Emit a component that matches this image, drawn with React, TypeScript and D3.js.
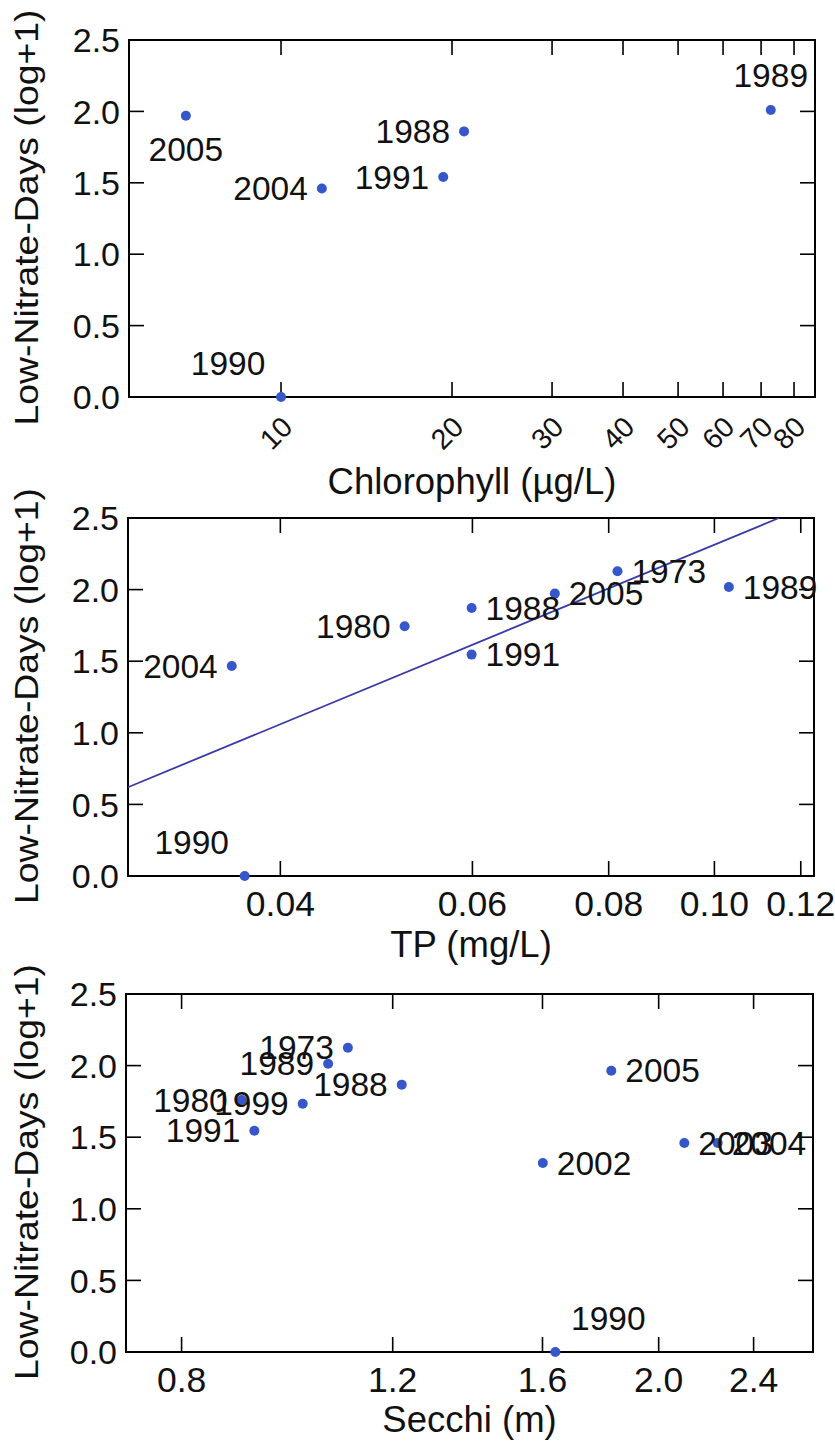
import React from "react";
import * as d3 from "d3";

// ---------- data ----------
const yTicks = [0, 0.5, 1, 1.5, 2, 2.5];
const yTickLabels = ["0.0", "0.5", "1.0", "1.5", "2.0", "2.5"];

// Panel 1: Chlorophyll
const chlTicks = [10, 20, 30, 40, 50, 60, 70, 80];
const chlTickLabels = ["10", "20", "30", "40", "50", "60", "70", "80"];
const chlYears = ["2005", "2004", "1988", "1991", "1989", "1990"];
const chlX = [6.8, 11.8, 21.0, 19.3, 72.8, 10.0];
const chlY = [1.97, 1.46, 1.86, 1.54, 2.01, 0.0];
const chlLabelPos = ["below", "left", "left", "left", "above", "aboveLeft"];

// Panel 2: TP
const tpTicks = [0.04, 0.06, 0.08, 0.1, 0.12];
const tpTickLabels = ["0.04", "0.06", "0.08", "0.10", "0.12"];
const tpYears = ["2004", "1990", "1980", "1988", "1991", "2005", "1973", "1989"];
const tpX = [0.0361, 0.0371, 0.052, 0.0599, 0.0599, 0.0714, 0.0815, 0.1031];
const tpY = [1.466, 0.0, 1.744, 1.872, 1.546, 1.972, 2.128, 2.018];
const tpLabelPos = ["left", "aboveLeft", "left", "right", "right", "right", "right", "right"];
const tpFitX = [0.029, 0.1146];
const tpFitY = [0.62, 2.5];

// Panel 3: Secchi
const secTicks = [0.8, 1.2, 1.6, 2.0, 2.4];
const secTickLabels = ["0.8", "1.2", "1.6", "2.0", "2.4"];
const secYears = ["1973", "1989", "1988", "1980", "1999", "1991", "2005", "2002", "2003", "2004", "1990"];
const secX = [1.101, 1.06, 1.221, 0.898, 1.0095, 0.92, 1.826, 1.601, 2.101, 2.24, 1.64];
const secY = [2.125, 2.013, 1.867, 1.76, 1.734, 1.545, 1.964, 1.32, 1.46, 1.46, 0.0];
const secLabelPos = ["left", "left", "left", "left", "left", "left", "right", "right", "right", "right", "aboveRight"];

const FONT = "'Liberation Sans', Arial, Helvetica, sans-serif";
const POINT = "#3557c9";
const LINE = "#3a3aa6";

type PanelProps = {
  left: number;
  right: number;
  top: number;
  bottom: number;
  xDomain: [number, number];
  xTicks: number[];
  xTickLabels: string[];
  rotateTicks?: boolean;
  title: string;
  titleDy: number;
  years: string[];
  xs: number[];
  ys: number[];
  pos: string[];
  fitX?: number[];
  fitY?: number[];
};

function Panel(p: PanelProps) {
  const x = d3.scaleLog().domain(p.xDomain).range([p.left, p.right]);
  const y = d3.scaleLinear().domain([0, 2.5]).range([p.bottom, p.top]);
  const tl = 15;
  const cy = (p.top + p.bottom) / 2;
  const cx = (p.left + p.right) / 2;

  let fitPath: string | null = null;
  if (p.fitX && p.fitY) {
    const pts = p.fitX.map((v, i) => [v, p.fitY![i]] as [number, number]);
    fitPath = d3
      .line<[number, number]>()
      .x((d) => x(d[0]))
      .y((d) => y(d[1]))(pts);
  }

  const labelProps = (i: number) => {
    const px = x(p.xs[i]);
    const py = y(p.ys[i]);
    switch (p.pos[i]) {
      case "left":
        return { x: px - 14, y: py, dy: "0.35em", anchor: "end" };
      case "right":
        return { x: px + 14, y: py, dy: "0.35em", anchor: "start" };
      case "above":
        return { x: px, y: py - 23, dy: "0", anchor: "middle" };
      case "below":
        return { x: px, y: py + 45, dy: "0", anchor: "middle" };
      case "aboveLeft":
        return { x: px - 53, y: py - 22, dy: "0", anchor: "middle" };
      case "aboveRight":
        return { x: px + 53, y: py - 22, dy: "0", anchor: "middle" };
      default:
        return { x: px, y: py, dy: "0", anchor: "middle" };
    }
  };

  return (
    <g>
      {/* frame */}
      <rect
        x={p.left}
        y={p.top}
        width={p.right - p.left}
        height={p.bottom - p.top}
        fill="none"
        stroke="#000"
        strokeWidth={2}
      />
      {/* y ticks (inside, both sides) */}
      {yTicks.map((t, i) => (
        <g key={"yt" + i}>
          <line x1={p.left} x2={p.left + tl} y1={y(t)} y2={y(t)} stroke="#000" strokeWidth={1.6} />
          <line x1={p.right} x2={p.right - tl} y1={y(t)} y2={y(t)} stroke="#000" strokeWidth={1.6} />
          <text
            x={p.left - 9}
            y={y(t)}
            dy="0.36em"
            textAnchor="end"
            fontSize={34}
            fontFamily={FONT}
            fill="#111"
          >
            {yTickLabels[i]}
          </text>
        </g>
      ))}
      {/* x ticks (inside, top & bottom) */}
      {p.xTicks.map((t, i) => (
        <g key={"xt" + i}>
          <line x1={x(t)} x2={x(t)} y1={p.bottom} y2={p.bottom - tl} stroke="#000" strokeWidth={1.6} />
          <line x1={x(t)} x2={x(t)} y1={p.top} y2={p.top + tl} stroke="#000" strokeWidth={1.6} />
          {p.rotateTicks ? (
            <text
              transform={`translate(${x(t) - 5},${p.bottom + 36}) rotate(-45)`}
              textAnchor="middle"
              dy="0.35em"
              fontSize={28.5}
              fontFamily={FONT}
              fill="#111"
            >
              {p.xTickLabels[i]}
            </text>
          ) : (
            <text
              x={x(t)}
              y={p.bottom + 40}
              textAnchor="middle"
              fontSize={35.5}
              fontFamily={FONT}
              fill="#111"
            >
              {p.xTickLabels[i]}
            </text>
          )}
        </g>
      ))}
      {/* axis titles */}
      <text
        x={cx}
        y={p.bottom + p.titleDy}
        textAnchor="middle"
        fontSize={36.5}
        fontFamily={FONT}
        fill="#111"
      >
        {p.title}
      </text>
      <text
        transform={`translate(37.5,${cy - 1}) rotate(-90)`}
        textAnchor="middle"
        fontSize={33}
        fontFamily={FONT}
        fill="#111"
        textLength={416}
        lengthAdjust="spacingAndGlyphs"
      >
        Low-Nitrate-Days (log+1)
      </text>
      {/* fit line */}
      {fitPath && <path d={fitPath} fill="none" stroke={LINE} strokeWidth={1.8} />}
      {/* points */}
      {p.years.map((yr, i) => (
        <circle key={"pt" + i} cx={x(p.xs[i])} cy={y(p.ys[i])} r={5} fill={POINT} />
      ))}
      {/* labels */}
      {p.years.map((yr, i) => {
        const l = labelProps(i);
        return (
          <text
            key={"lb" + i}
            x={l.x}
            y={l.y}
            dy={l.dy}
            textAnchor={l.anchor as any}
            fontSize={33.5}
            fontFamily={FONT}
            fill="#111"
          >
            {yr}
          </text>
        );
      })}
    </g>
  );
}

export default function App() {
  return (
    <svg
      width={835}
      height={1441}
      style={{ position: "absolute", left: 0, top: 0, background: "#fff", display: "block" }}
    >
      <rect x={0} y={0} width={835} height={1441} fill="#fff" />
      <Panel
        left={129}
        right={815}
        top={40}
        bottom={397}
        xDomain={[5.4, 87.1]}
        xTicks={chlTicks}
        xTickLabels={chlTickLabels}
        rotateTicks
        title="Chlorophyll (µg/L)"
        titleDy={97}
        years={chlYears}
        xs={chlX}
        ys={chlY}
        pos={chlLabelPos}
      />
      <Panel
        left={128}
        right={814}
        top={518}
        bottom={876}
        xDomain={[0.029, 0.1234]}
        xTicks={tpTicks}
        xTickLabels={tpTickLabels}
        title="TP (mg/L)"
        titleDy={81}
        years={tpYears}
        xs={tpX}
        ys={tpY}
        pos={tpLabelPos}
        fitX={tpFitX}
        fitY={tpFitY}
      />
      <Panel
        left={126}
        right={813}
        top={994}
        bottom={1352}
        xDomain={[0.719, 2.69]}
        xTicks={secTicks}
        xTickLabels={secTickLabels}
        title="Secchi (m)"
        titleDy={80}
        years={secYears}
        xs={secX}
        ys={secY}
        pos={secLabelPos}
      />
    </svg>
  );
}
